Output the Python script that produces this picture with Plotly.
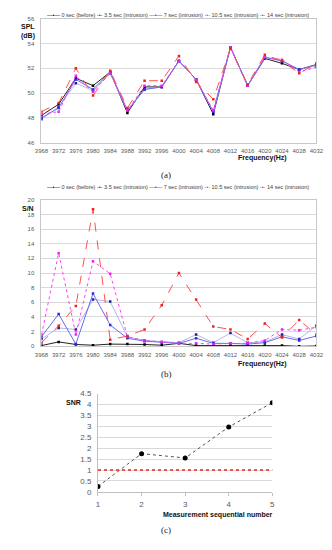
import plotly.graph_objects as go

# ---------------- data ----------------
freqs = [3968, 3972, 3976, 3980, 3984, 3988, 3992, 3996, 4000, 4004, 4008, 4012, 4016, 4020, 4024, 4028, 4032]
series_names = ["0 sec (before)", "3.5 sec (intrusion)", "7 sec (intrusion)", "10.5 sec (intrusion)", "14 sec (intrusion)"]

spl_0s   = [48.2, 49.1, 51.2, 50.6, 51.7, 48.4, 50.5, 50.5, 52.6, 51.1, 48.3, 53.7, 50.6, 52.8, 52.4, 51.9, 52.3]
spl_3_5s = [47.9, 48.9, 50.8, 50.2, 51.6, 48.6, 50.3, 50.5, 52.6, 51.1, 48.5, 53.7, 50.6, 52.9, 52.6, 51.9, 52.2]
spl_7s   = [48.0, 48.8, 51.1, 50.3, 51.7, 48.6, 50.3, 50.5, 52.6, 51.1, 48.5, 53.7, 50.6, 52.9, 52.6, 51.9, 52.3]
spl_10_5s= [48.3, 48.5, 51.4, 50.1, 51.6, 48.6, 50.6, 50.6, 52.6, 51.1, 48.6, 53.7, 50.6, 52.9, 52.7, 51.7, 52.1]
spl_14s  = [48.5, 49.2, 52.0, 49.8, 51.8, 48.8, 51.0, 51.0, 53.0, 50.9, 49.5, 53.6, 50.7, 53.1, 52.6, 51.6, 52.4]

sn_0s    = [0.1, 0.6, 0.25, 0.15, 0.3, 0.3, 0.25, 0.15, 0.4, 0.1, 0.1, 0.1, 0.15, 0.1, 0.1, 0.0, 0.05]
sn_3_5s  = [1.0, 2.5, 2.3, 6.4, 6.1, 1.3, 0.8, 0.6, 0.5, 1.6, 0.5, 1.8, 0.5, 0.6, 1.6, 1.0, 2.8]
sn_7s    = [1.3, 4.4, 0.3, 7.2, 2.9, 1.1, 0.7, 0.5, 0.4, 1.1, 0.4, 0.4, 0.3, 0.5, 1.3, 0.8, 1.4]
sn_10_5s = [1.6, 12.7, 1.6, 11.6, 9.9, 1.3, 0.8, 0.6, 0.4, 0.4, 0.3, 0.4, 0.4, 0.8, 2.3, 2.2, 2.6]
sn_14s   = [0.5, 2.8, 5.5, 18.7, 0.9, 1.4, 2.3, 5.6, 10.0, 6.4, 2.7, 2.3, 1.0, 3.1, 1.2, 3.6, 1.6]

meas_no = [1, 2, 3, 4, 5]
snr_vals = [0.25, 1.75, 1.55, 2.97, 4.08]
snr_threshold = 1.0

freq_ticks = freqs
spl_ticks = [46, 48, 50, 52, 54, 56]
sn_ticks = [0, 2, 4, 6, 8, 10, 12, 14, 16, 18, 20]
snr_ticks = [0, 0.5, 1, 1.5, 2, 2.5, 3, 3.5, 4, 4.5]

# ---------------- styles ----------------
line_colors = ["#222222", "#b4b8e6", "#6a6af0", "#ff40ff", "#ff5050"]
marker_colors = ["#000000", "#1a1aa0", "#2a2ae0", "#ee22ee", "#ee2222"]
dashes = ["solid", "solid", "solid", "dot", "dash"]
legend_samples = ["\u2014\u2022\u2014", "-\u2022-", "\u2014\u2022\u2014", "-\u2022-", "-\u2022-"]

W, H = 332, 550
def px_x(p): return p / W
def px_y(p): return 1 - p / H

fig = go.Figure()
spl_series = [spl_0s, spl_3_5s, spl_7s, spl_10_5s, spl_14s]
sn_series = [sn_0s, sn_3_5s, sn_7s, sn_10_5s, sn_14s]

for i, name in enumerate(series_names):
    fig.add_trace(go.Scatter(x=freqs, y=spl_series[i], name=name, mode="lines+markers",
                             line=dict(color=line_colors[i], width=1, dash=dashes[i]),
                             marker=dict(symbol="square", size=2.5, color=marker_colors[i]),
                             xaxis="x", yaxis="y", showlegend=False))
for i, name in enumerate(series_names):
    fig.add_trace(go.Scatter(x=freqs, y=sn_series[i], name=name, mode="lines+markers",
                             line=dict(color=line_colors[i], width=1, dash=dashes[i]),
                             marker=dict(symbol="square", size=2.5, color=marker_colors[i]),
                             xaxis="x2", yaxis="y2", showlegend=False))

fig.add_trace(go.Scatter(x=meas_no, y=snr_vals, name="SNR", mode="lines+markers",
                         line=dict(color="#555555", width=1, dash="dot"),
                         marker=dict(symbol="circle", size=5, color="#000000"),
                         xaxis="x3", yaxis="y3", showlegend=False))
fig.add_shape(type="line", xref="x3 domain", x0=0, x1=1, yref="y3", y0=snr_threshold, y1=snr_threshold,
              line=dict(color="#ee2020", width=1.5, dash="dot"))

tickfont = dict(family="Liberation Sans, Arial", size=6, color="#595959")
grid = "#d9d9d9"
common_x = dict(showgrid=False, showline=True, linecolor="#c8c8c8", linewidth=1, mirror=True,
                ticks="", tickfont=tickfont, zeroline=False, ticklabeloverflow="allow",
                ticklabelstandoff=2)
common_y = dict(showgrid=True, gridcolor=grid, gridwidth=1, showline=True, linecolor="#c8c8c8",
                linewidth=1, mirror=True, ticks="", tickfont=tickfont, zeroline=False,
                ticklabelstandoff=5)

fig.update_layout(
    width=W, height=H, margin=dict(l=0, r=0, t=0, b=0),
    paper_bgcolor="white", plot_bgcolor="white",
    xaxis=dict(domain=[px_x(36), px_x(323)], range=[3968, 4032], tickvals=freq_ticks,
               anchor="y", **common_x),
    yaxis=dict(domain=[px_y(141), px_y(15)], range=[46, 56], tickvals=spl_ticks,
               anchor="x", **common_y),
    xaxis2=dict(domain=[px_x(36), px_x(323)], range=[3968, 4032], tickvals=freq_ticks,
                anchor="y2", **common_x),
    yaxis2=dict(domain=[px_y(348), px_y(199)], range=[0, 20], tickvals=sn_ticks,
                anchor="x2", **common_y),
    xaxis3=dict(domain=[px_x(95), px_x(277)], range=[1, 5], tickvals=meas_no,
                anchor="y3", showgrid=False, showline=True, linecolor="#bfbfbf", ticks="outside",
                ticklen=3, tickcolor="#bfbfbf", tickfont=dict(family="Liberation Sans, Arial", size=8, color="#595959"),
                zeroline=False, ticklabelstandoff=2),
    yaxis3=dict(domain=[px_y(496), px_y(396)], range=[0, 4.5], tickvals=snr_ticks,
                anchor="x3", showgrid=True, gridcolor=grid, showline=True, linecolor="#bfbfbf",
                ticks="", tickfont=dict(family="Liberation Sans, Arial", size=8, color="#595959"),
                zeroline=False, ticklabelstandoff=4),
)

ann = []
bold = dict(family="Liberation Sans, Arial", size=7, color="#111111")
ann.append(dict(text="<b>SPL</b>", x=px_x(13), y=px_y(17), xref="paper", yref="paper",
                showarrow=False, font=bold))
ann.append(dict(text="<b>(dB)</b>", x=px_x(13), y=px_y(26), xref="paper", yref="paper",
                showarrow=False, font=bold))
ann.append(dict(text="<b>Frequency(Hz)</b>", x=px_x(294), y=px_y(150), xref="paper", yref="paper",
                showarrow=False, font=bold))
ann.append(dict(text="(a)", x=px_x(166), y=px_y(167), xref="paper", yref="paper",
                showarrow=False, font=dict(family="Liberation Serif, Times New Roman", size=9, color="#222")))
ann.append(dict(text="<b>S/N</b>", x=px_x(14), y=px_y(208), xref="paper", yref="paper",
                showarrow=False, font=bold))
ann.append(dict(text="<b>Frequency(Hz)</b>", x=px_x(294), y=px_y(366), xref="paper", yref="paper",
                showarrow=False, font=bold))
ann.append(dict(text="(b)", x=px_x(166), y=px_y(383), xref="paper", yref="paper",
                showarrow=False, font=dict(family="Liberation Serif, Times New Roman", size=9, color="#222")))
ann.append(dict(text="<b>SNR</b>", x=px_x(60), y=px_y(411), xref="paper", yref="paper",
                showarrow=False, font=bold))
ann.append(dict(text="<b>Measurement sequential number</b>", x=px_x(220), y=px_y(526), xref="paper", yref="paper",
                showarrow=False, font=bold))
ann.append(dict(text="(c)", x=px_x(166), y=px_y(542), xref="paper", yref="paper",
                showarrow=False, font=dict(family="Liberation Serif, Times New Roman", size=9, color="#222")))

# legends as rich text built from the series names
parts = []
for i, name in enumerate(series_names):
    parts.append(f"<span style='color:{marker_colors[i]}'>{legend_samples[i]}</span> {name}")
legend_text = " ".join(parts)
for ly in (6, 186):
    ann.append(dict(text=legend_text, x=px_x(179), y=px_y(ly), xref="paper", yref="paper",
                    showarrow=False, font=dict(family="Liberation Sans, Arial", size=5.5, color="#404040")))

fig.update_layout(annotations=ann)
fig.write_html("out.html", config={"displayModeBar": False},
               post_script="document.body.style.margin='0';document.body.style.padding='0';")
